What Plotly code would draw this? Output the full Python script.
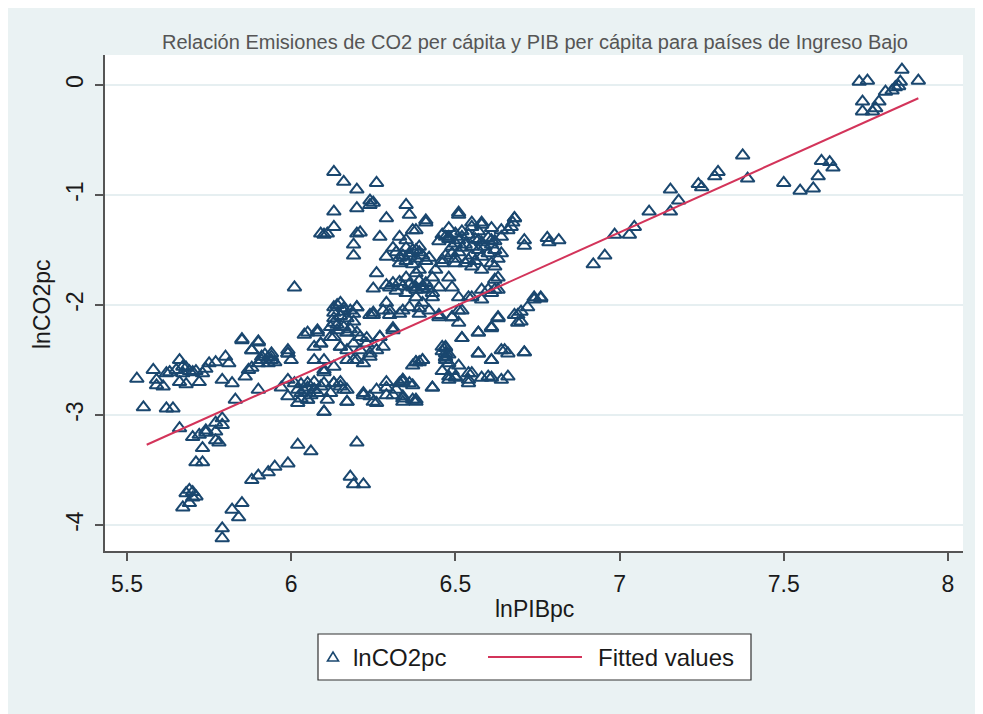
import plotly.graph_objects as go

# ---- data (lnPIBpc, lnCO2pc) ----
left_band = [(5.53,-2.67),(5.55,-2.93),(5.58,-2.59),(5.59,-2.73),(5.59,-2.68),(5.61,-2.74),(5.62,-2.94),
    (5.64,-2.94),(5.63,-2.61),(5.65,-2.59),(5.66,-2.50),(5.67,-2.56),(5.67,-2.62),(5.69,-2.60),(5.72,-2.70),
    (5.73,-2.62),(5.75,-2.53),(5.77,-2.52),(5.79,-2.68),(5.80,-2.47),(5.81,-2.53),(5.82,-2.71),(5.83,-2.86),
    (5.85,-2.32),(5.88,-2.41),(5.90,-2.34),(5.87,-2.59),(5.90,-2.77),(5.91,-2.47),(5.94,-2.50),(5.94,-2.44),
    (5.99,-2.44),(5.62,-2.62),(5.68,-2.57),(5.70,-2.61),(5.66,-2.70),(5.68,-2.72),(5.71,-2.60),(5.74,-2.58),
    (5.91,-2.50),(5.92,-2.45),(5.93,-2.48),(5.90,-2.53),(5.95,-2.52)]

lower_branch = [(5.66,-3.12),(5.70,-3.20),(5.72,-3.18),(5.74,-3.16),(5.73,-3.30),(5.71,-3.43),(5.73,-3.43),
    (5.77,-3.23),(5.79,-3.03),(5.79,-3.09),(5.77,-3.15),(5.68,-3.71),(5.70,-3.70),(5.67,-3.84),(5.69,-3.80),
    (5.71,-3.74),(5.69,-3.68),(5.70,-3.75),(5.79,-4.03),(5.79,-4.12),(5.82,-3.86),(5.84,-3.93),(5.85,-3.80),
    (5.88,-3.59),(5.90,-3.55),(5.93,-3.52),(5.95,-3.47),(5.99,-3.44),(6.02,-3.27),(6.06,-3.33),(6.20,-3.25),
    (6.18,-3.56),(6.19,-3.63),(6.22,-3.63),(5.78,-3.25),(5.74,-3.14),(5.77,-3.07)]

middle_low = [(5.85,-2.31),(5.90,-2.33),(5.88,-2.41),(5.94,-2.47),(5.99,-2.41),(6.00,-2.50),(5.88,-2.57),
    (5.86,-2.65),(5.93,-2.53),(5.97,-2.75),(5.99,-2.83),(6.02,-2.89),(6.03,-2.80),(6.05,-2.86),(6.01,-2.71),
    (6.05,-2.71),(6.07,-2.77),(6.10,-2.97),(6.12,-2.80),(6.13,-2.71),(6.15,-2.74),(6.17,-2.77),(6.17,-2.88),
    (6.10,-2.59),(6.04,-2.27),(6.08,-2.23),(6.07,-2.38),(6.09,-2.35),(6.12,-2.29),(6.13,-2.07),(6.15,-1.98),
    (6.16,-2.06),(6.13,-2.16),(6.14,-2.23),(6.17,-2.25),(6.15,-2.38),(6.17,-2.41),(6.19,-2.50),(6.20,-2.02),
    (6.21,-2.29),(6.23,-2.35),(6.24,-2.44),(6.22,-2.53),(6.25,-2.07),(6.28,-2.38),(6.22,-2.80),(6.24,-2.83),
    (6.26,-2.89),(6.29,-2.75),(6.31,-2.82),(6.33,-2.71),(6.34,-2.68),(6.36,-2.71),(6.34,-2.83),(6.37,-2.86),
    (6.38,-2.52),(6.40,-2.50),(6.43,-2.75),
    (6.13,-2.02),(6.20,-2.02),(6.24,-2.09),(6.28,-2.05),(6.30,-2.09),(6.34,-2.05),(6.39,-2.03),
    (6.05,-2.25),(6.08,-2.25),(6.09,-2.35),(6.12,-2.20),(6.13,-2.29),(6.15,-2.38),(6.17,-2.25),(6.19,-2.35),
    (6.21,-2.41),(6.23,-2.30),(6.26,-2.41),(6.24,-2.47),(6.27,-2.29),(6.31,-2.23),
    (6.07,-2.50),(6.10,-2.50),(6.13,-2.56),(6.17,-2.50),(6.20,-2.50),(5.99,-2.44),(6.10,-2.61),(5.99,-2.68),
    (6.02,-2.77),(6.05,-2.86),(6.07,-2.77),(6.10,-2.71),(6.13,-2.71),(6.15,-2.70),(6.16,-2.77),(6.11,-2.86),
    (6.10,-2.97),(6.17,-2.88),(6.22,-2.82),(6.25,-2.88),(6.26,-2.77),(6.29,-2.82),(6.29,-2.70),(6.32,-2.77),
    (6.34,-2.68),(6.37,-2.73),(6.38,-2.88),(6.34,-2.88),(6.38,-2.52),(6.40,-2.50),
    (6.14,-2.00),(6.16,-2.03),(6.18,-2.05),(6.15,-2.10),(6.17,-2.12),(6.19,-2.15),(6.14,-2.18),(6.16,-2.20),
    (6.18,-2.22),(6.20,-2.25),(6.13,-2.12),(6.19,-2.08),
    (6.03,-2.72),(6.05,-2.75),(6.07,-2.70),(6.04,-2.78),(6.08,-2.80),(6.06,-2.82),(6.03,-2.85),(6.09,-2.74)]

upper_cluster = [(6.13,-0.79),(6.16,-0.88),(6.20,-0.95),(6.26,-0.89),(6.24,-1.05),(6.20,-1.12),(6.24,-1.09),
    (6.25,-1.07),(6.13,-1.15),(6.13,-1.29),(6.09,-1.35),(6.10,-1.36),(6.11,-1.35),(6.20,-1.35),(6.21,-1.34),
    (6.19,-1.45),(6.19,-1.55),(6.27,-1.38),(6.29,-1.21),(6.35,-1.09),(6.36,-1.18),(6.41,-1.23),(6.38,-1.32),
    (6.33,-1.38),(6.31,-1.48),(6.29,-1.56),(6.33,-1.57),(6.37,-1.50),(6.39,-1.47),(6.26,-1.71),(6.25,-1.85),
    (6.30,-1.84),(6.33,-1.79),(6.37,-1.84),(6.38,-1.71),(6.41,-1.80),(6.43,-1.89),(6.01,-1.84),
    (6.32,-1.52),(6.34,-1.55),(6.36,-1.53),(6.35,-1.60),(6.38,-1.58),(6.40,-1.55),(6.33,-1.62),(6.37,-1.63),
    (6.41,-1.60),(6.35,-1.48),(6.39,-1.52),(6.42,-1.57),
    (6.31,-1.80),(6.34,-1.83),(6.36,-1.81),(6.38,-1.86),(6.40,-1.83),(6.32,-1.87),(6.35,-1.89),(6.39,-1.78),
    (6.29,-1.82),(6.42,-1.85)]

central_right = [(6.46,-1.62),(6.50,-1.62),(6.48,-1.38),(6.51,-1.41),(6.51,-1.18),(6.55,-1.29),(6.58,-1.27),
    (6.55,-1.47),(6.60,-1.53),(6.61,-1.41),(6.64,-1.32),(6.68,-1.21),(6.66,-1.32),(6.71,-1.41),(6.78,-1.39),
    (6.61,-1.62),(6.63,-1.75),(6.61,-1.89),(6.58,-1.86),(6.54,-1.93),(6.49,-1.84),(6.42,-2.05),(6.39,-2.08),
    (6.36,-2.02),(6.33,-2.08),(6.30,-2.05),(6.29,-1.98),(6.31,-2.21),(6.27,-2.29),(6.25,-2.09),(6.38,-1.93),
    (6.41,-1.25),(6.37,-1.32),(6.35,-1.41),(6.38,-1.50),(6.36,-1.56),(6.39,-1.68),(6.35,-1.75),(6.38,-1.84),
    (6.40,-1.86),(6.43,-1.75),(6.44,-1.68),(6.46,-1.59),(6.47,-1.38),(6.50,-1.35),(6.51,-1.16),(6.55,-1.25),
    (6.58,-1.25),(6.57,-1.41),(6.52,-1.48),(6.49,-1.53),(6.54,-1.59),(6.58,-1.56),(6.61,-1.45),(6.64,-1.38),
    (6.67,-1.29),(6.68,-1.21),(6.64,-1.53),(6.62,-1.65),(6.58,-1.68),(6.55,-1.65),(6.48,-1.75),(6.45,-1.84),
    (6.43,-1.93),(6.40,-1.98),(6.51,-1.93),(6.55,-1.93),(6.60,-1.86),(6.63,-1.86),(6.58,-1.95),(6.62,-1.77),
    (6.52,-2.05),(6.49,-2.11),(6.51,-2.16),(6.45,-2.11),(6.74,-1.93),(6.76,-1.93),(6.72,-2.02),(6.69,-2.09),
    (6.70,-2.15),(6.63,-2.11),(6.61,-2.20),(6.57,-2.25),(6.52,-2.30),(6.47,-2.38),(6.47,-2.44),
    (6.46,-1.36),(6.48,-1.40),(6.50,-1.44),(6.52,-1.38),(6.54,-1.36),(6.56,-1.40),(6.58,-1.43),(6.53,-1.45),
    (6.49,-1.47),(6.51,-1.52),(6.55,-1.55),(6.57,-1.50),(6.59,-1.47),(6.60,-1.39),(6.62,-1.42),(6.62,-1.50),
    (6.47,-1.55),(6.50,-1.58),(6.53,-1.62),(6.56,-1.60),(6.45,-1.42),(6.52,-1.33),(6.57,-1.33),(6.63,-1.58),
    (6.48,-1.30),(6.61,-1.30)]

lower_middle = [(6.46,-2.38),(6.47,-2.47),(6.48,-2.53),(6.48,-2.65),(6.50,-2.65),(6.54,-2.62),(6.54,-2.68),
    (6.57,-2.44),(6.60,-2.65),(6.61,-2.50),(6.65,-2.41),(6.66,-2.65),(6.71,-2.43),(6.52,-2.30),(6.57,-2.25),
    (6.61,-2.21),(6.63,-2.12),(6.69,-2.16),(6.70,-2.06),(6.74,-1.95),(6.76,-1.94),(6.68,-2.09),(6.62,-1.86),
    (6.51,-2.05),(6.49,-2.11),(6.45,-2.09),
    (6.47,-2.39),(6.47,-2.48),(6.51,-2.55),(6.39,-2.52),(6.37,-2.55),(6.57,-2.44),(6.61,-2.50),(6.64,-2.41),
    (6.66,-2.44),(6.71,-2.43),(6.48,-2.68),(6.50,-2.66),(6.54,-2.71),(6.55,-2.62),(6.58,-2.66),(6.61,-2.66),
    (6.64,-2.68),(6.43,-2.75),(6.34,-2.70),(6.38,-2.86),(6.34,-2.85),
    (6.46,-2.42),(6.48,-2.45),(6.47,-2.50),(6.49,-2.60),(6.46,-2.60)]

right_tail = [(6.675,-1.25),(6.71,-1.46),(6.785,-1.43),(6.815,-1.41),(6.92,-1.63),(6.955,-1.55),(6.985,-1.36),
    (7.03,-1.36),(7.045,-1.29),(7.09,-1.15),(7.155,-1.15),(7.155,-0.95),(7.18,-1.05),(7.24,-0.90),(7.25,-0.93),
    (7.29,-0.83),(7.30,-0.79),(7.375,-0.64),(7.39,-0.85),(7.50,-0.89),(7.55,-0.96),(7.59,-0.94),(7.605,-0.83),
    (7.615,-0.69),(7.64,-0.70),(7.65,-0.75),(7.73,0.03),(7.755,0.04),(7.74,-0.15),(7.74,-0.24),(7.77,-0.24),
    (7.78,-0.21),(7.79,-0.15),(7.81,-0.06),(7.83,-0.05),(7.84,-0.02),(7.85,-0.01),(7.855,0.03),(7.86,0.14),
    (7.91,0.04)]

# fitted line (ends)
fit_x = [5.56, 7.91]
fit_y = [-3.27, -0.12]

x_ticks = [5.5, 6, 6.5, 7, 7.5, 8]
x_tick_text = ["5.5", "6", "6.5", "7", "7.5", "8"]
y_ticks = [-4, -3, -2, -1, 0]
y_tick_text = ["-4", "-3", "-2", "-1", "0"]

title_text = "Relación Emisiones de CO2 per cápita y PIB per cápita para países de Ingreso Bajo"
x_title = "lnPIBpc"
y_title = "lnCO2pc"
legend_labels = ["lnCO2pc", "Fitted values"]

# ---- styling ----
NAVY = "#1a476f"
RED = "#d3345a"
BG = "#eaf2f3"
FONT = "Arial, Liberation Sans, sans-serif"
TXT = "#1a1a1a"

pts = left_band + lower_branch + middle_low + upper_cluster + central_right + lower_middle + right_tail
xs = [p[0] for p in pts]
ys = [p[1] for p in pts]

fig = go.Figure()
fig.add_trace(go.Scatter(x=xs, y=ys, mode="markers", name=legend_labels[0],
                         marker=dict(symbol="triangle-up-open", size=12, color=NAVY,
                                     line=dict(width=2, color=NAVY))))
fig.add_trace(go.Scatter(x=fit_x, y=fit_y, mode="lines", name=legend_labels[1],
                         line=dict(color=RED, width=2)))

# page has an 8px body margin; plot area sits at page x 105..963, y 55..551
OFF = 8
W, H = 983 - OFF, 714 - OFF
L, R, T, B = 105 - OFF, 983 - 963, 55 - OFF, 714 - 551
pw, ph = W - L - R, H - T - B

def px(xp):
    return (xp - 105) / pw

def py(yp):
    return (551 - yp) / ph

shapes = [
    dict(type="rect", xref="paper", yref="paper", x0=px(318), x1=px(751), y0=py(680), y1=py(634),
         line=dict(color="#333333", width=1.2), fillcolor="white", layer="above"),
    dict(type="line", xref="paper", yref="paper", x0=px(488), x1=px(582), y0=py(657), y1=py(657),
         line=dict(color=RED, width=2)),
    dict(type="path", xref="paper", yref="paper",
         path=f"M {px(327.5)},{py(661)} L {px(338.5)},{py(661)} L {px(333)},{py(652)} Z",
         line=dict(color=NAVY, width=1.6)),
]

annotations = [
    dict(text=legend_labels[0], xref="paper", yref="paper", x=px(351), y=py(657), xanchor="left",
         yanchor="middle", showarrow=False, font=dict(family=FONT, size=24, color=TXT)),
    dict(text=legend_labels[1], xref="paper", yref="paper", x=px(596), y=py(657), xanchor="left",
         yanchor="middle", showarrow=False, font=dict(family=FONT, size=24, color=TXT)),
    dict(text=x_title, xref="paper", yref="paper", x=px(534), y=py(609), xanchor="center", yanchor="middle",
         showarrow=False, font=dict(family=FONT, size=23, color=TXT)),
    dict(text=y_title, xref="paper", yref="paper", x=px(42), y=py(305), xanchor="center", yanchor="middle",
         textangle=-90, showarrow=False, font=dict(family=FONT, size=23, color=TXT)),
]

fig.update_layout(
    width=W, height=H,
    margin=dict(l=L, r=R, t=T, b=B),
    paper_bgcolor=BG, plot_bgcolor="white",
    showlegend=False,
    title=dict(text=title_text, x=px(535), xref="paper", y=1 - (42 - OFF) / H, yref="container",
               xanchor="center", yanchor="middle", font=dict(family=FONT, size=20, color="#555555")),
    shapes=shapes, annotations=annotations,
    font=dict(family=FONT),
)
fig.update_xaxes(range=[5.433, 8.046], tickvals=x_ticks, ticktext=x_tick_text, showgrid=False,
                 zeroline=False, showline=True, linecolor="#555555", linewidth=1.5,
                 ticks="outside", ticklen=8, tickcolor="#555555", tickwidth=1.5,
                 tickfont=dict(family=FONT, size=23, color=TXT), ticklabelstandoff=4)
fig.update_yaxes(range=[-4.236, 0.273], tickvals=y_ticks, ticktext=y_tick_text, showgrid=True,
                 gridcolor="#e6eff1", gridwidth=2, zeroline=False, showline=True,
                 linecolor="#555555", linewidth=1.5, ticks="outside", ticklen=8, tickcolor="#555555",
                 tickwidth=1.5, tickangle=-90, tickfont=dict(family=FONT, size=23, color=TXT),
                 ticklabelstandoff=3)

fig.write_html("out.html")
